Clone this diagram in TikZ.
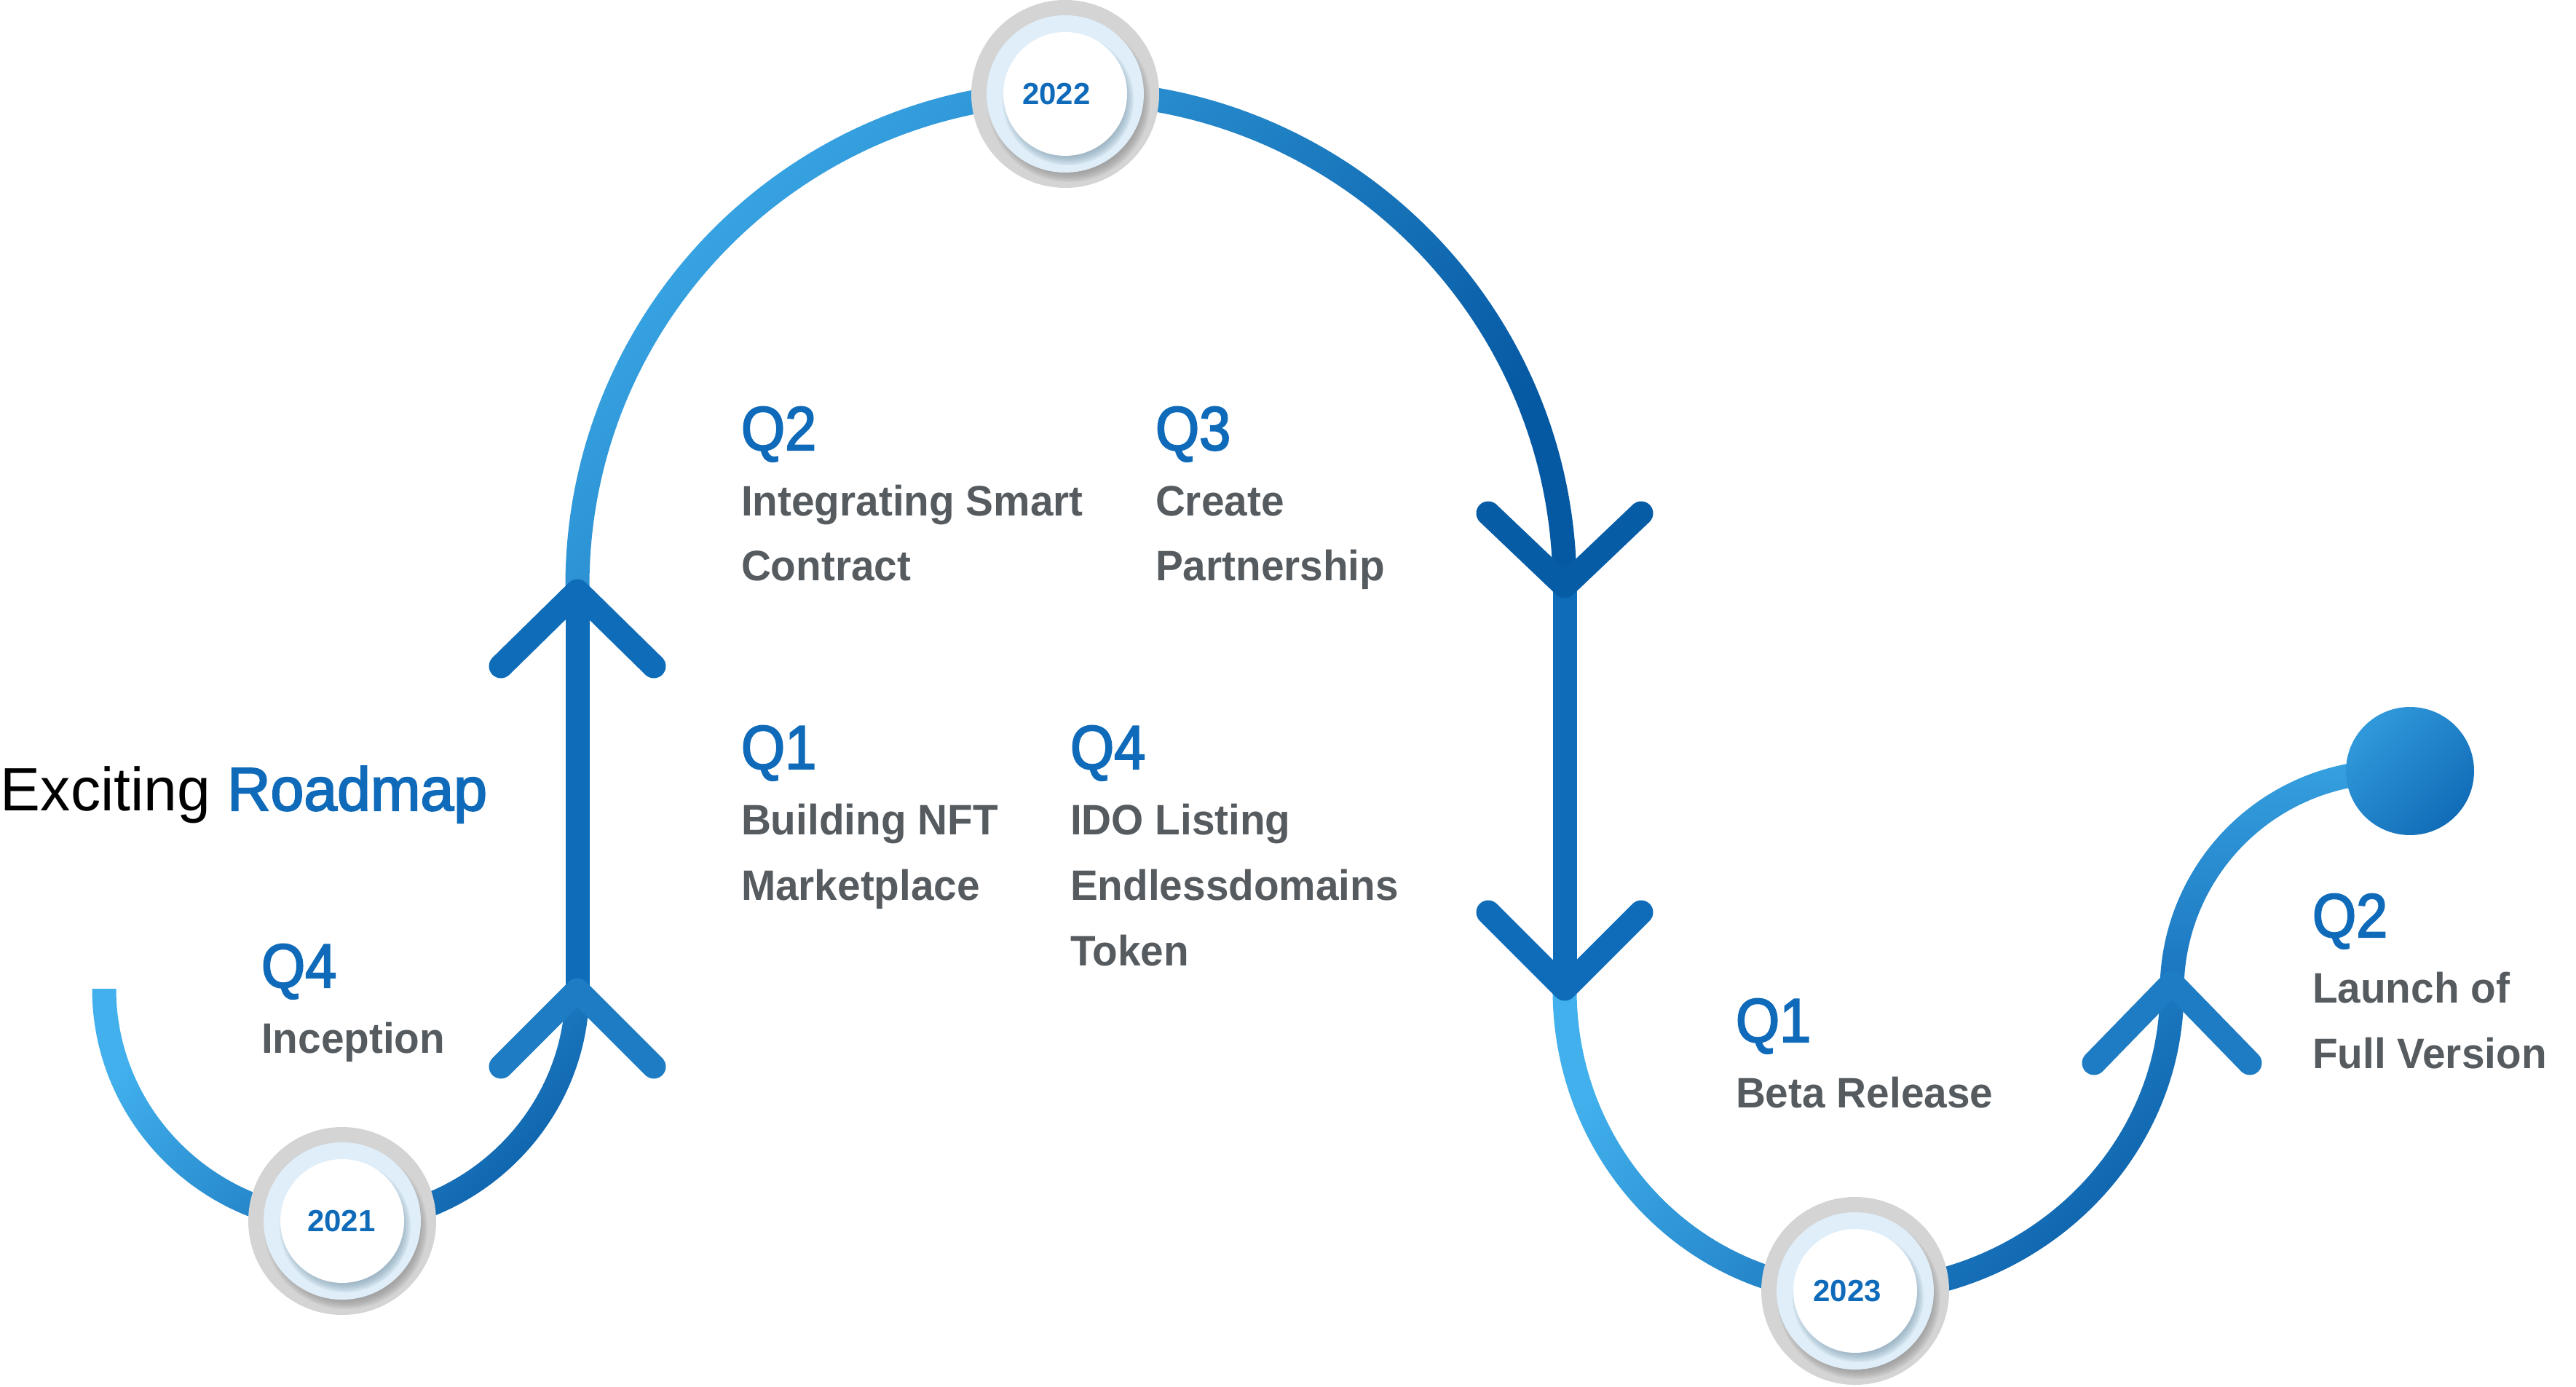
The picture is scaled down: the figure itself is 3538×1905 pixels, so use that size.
\documentclass[tikz,border=0pt]{standalone}
\usepackage{fontspec}
\setmainfont{Liberation Sans}
\newfontfamily\bodyfont{Liberation Sans}[FakeStretch=0.97]
\newfontfamily\qfont{Liberation Sans}[FakeStretch=0.91, FakeBold=2.5]
\newfontfamily\titlefont{Liberation Sans}[FakeStretch=0.98]
\newfontfamily\titleboldfont{Liberation Sans}[FakeStretch=0.98, FakeBold=2.5]
\definecolor{qblue}{HTML}{0F6BB9}
\definecolor{txtgray}{HTML}{565B60}
\definecolor{vblue}{HTML}{0E6CB9}
\definecolor{vdark}{HTML}{065DA6}
\definecolor{chevmid}{HTML}{1D7CC3}
\definecolor{arcLight}{HTML}{41B0EC}
\definecolor{arcDark}{HTML}{0D62AC}
\definecolor{bigLight}{HTML}{3BA8E6}
\definecolor{bigDark}{HTML}{0558A2}
\definecolor{finLight}{HTML}{36A1E0}
\definecolor{finDark}{HTML}{1A74BE}
\definecolor{dotLight}{HTML}{3099DB}
\definecolor{dotDark}{HTML}{116CB7}
\definecolor{ringgray}{HTML}{D4D4D4}
\definecolor{shadegray}{HTML}{8A8A8A}
\definecolor{ringblue}{HTML}{DFEEF8}
\definecolor{innershade}{HTML}{7F9AAD}
\tikzset{
  qlabel/.style={anchor=base west, inner sep=0pt, text=qblue, font=\qfont\fontsize{17pt}{17pt}\selectfont},
  bodyline/.style={anchor=base west, inner sep=0pt, text=txtgray, font=\bodyfont\bfseries\fontsize{11.7pt}{11.7pt}\selectfont},
  yeartext/.style={inner sep=0pt, text=qblue, font=\bfseries\fontsize{8.4pt}{8.4pt}\selectfont},
  stem/.style={line width=6.6pt, draw=vblue},
  chev/.style={line width=6.6pt, line cap=round, line join=round},
}
\newcommand{\yearbadge}[5]{%
  \fill[ringgray] (#2,#3) circle[radius=129];
  \foreach \k in {0,...,7}{\fill[shadegray, opacity=0.13] (#2+5,#3+9) circle[radius={112-2*\k}];}
  \fill[ringblue] (#2,#3) circle[radius=108];
  \foreach \k in {0,...,7}{\fill[innershade, opacity=0.13] (#2+4,#3+8) circle[radius={90-2*\k}];}
  \fill[white] (#2,#3) circle[radius=85];
  \node[yeartext] (#1) at (#2+#5,#3) {#4};
}
\begin{document}
\begin{tikzpicture}[x=0.2pt, y=-0.2pt]
\useasboundingbox (0,0) rectangle (3538,1905);

% key points
\coordinate (L1) at (793,1360);
\coordinate (L2) at (793,812);
\coordinate (R1) at (2149,805);
\coordinate (R2) at (2149,1358);
\coordinate (F1) at (2983,1350);

% vertical stems
\draw[stem] (793,1362) -- (793,805);
\draw[stem] (2149,805) -- (2149,1362);

% left arc (2021)
\shade[top color=arcLight, bottom color=arcDark, shading angle=45]
  (126.5,1358) arc[start angle=180, end angle=0, x radius=341.5, y radius=336.5]
  -- (776.5,1358) arc[start angle=0, end angle=180, x radius=308.5, y radius=303.5] -- cycle;

% big arc (2022)
\shade[top color=bigLight, bottom color=bigDark, shading angle=45]
  (776.5,805) arc[start angle=180, end angle=360, radius=694.5]
  -- (2132.5,805) arc[start angle=360, end angle=180, radius=661.5] -- cycle;

% lower arc (2023)
\shade[top color=arcLight, bottom color=arcDark, shading angle=45]
  (2132.5,1360) arc[start angle=180, end angle=90, x radius=415.5, y radius=430.5]
  arc[start angle=90, end angle=0, x radius=451.5, y radius=430.5]
  -- (2966.5,1360) arc[start angle=0, end angle=90, x radius=418.5, y radius=397.5]
  arc[start angle=90, end angle=180, x radius=382.5, y radius=397.5] -- cycle;

% final arc to the dot
\shade[top color=finLight, bottom color=finDark]
  (2966.5,1360) arc[start angle=180, end angle=275, radius=316.5]
  -- ([shift={(275:283.5)}]3283,1360) arc[start angle=275, end angle=180, radius=283.5] -- cycle;

\node[circle, minimum size=35.2pt, inner sep=0pt, top color=dotLight, bottom color=dotDark, shading angle=45, draw=none] (enddot) at (3310,1059) {};

% chevrons
\draw[chev, draw=chevmid] ([shift={(-105,105)}]L1) -- (L1) -- ([shift={(105,105)}]L1);
\draw[chev, draw=vblue] ([shift={(-105,103)}]L2) -- (L2) -- ([shift={(105,103)}]L2);
\draw[chev, draw=vdark] ([shift={(-105,-100)}]R1) -- (R1) -- ([shift={(105,-100)}]R1);
\draw[chev, draw=vblue] ([shift={(-105,-105)}]R2) -- (R2) -- ([shift={(105,-105)}]R2);
\draw[chev, draw=chevmid] ([shift={(-107,110)}]F1) -- (F1) -- ([shift={(107,110)}]F1);

% year badges
\yearbadge{y2021}{470}{1677}{2021}{-1}
\yearbadge{y2022}{1463}{129}{2022}{-12}
\yearbadge{y2023}{2548}{1773}{2023}{-11}

% title
\node[anchor=base west, inner sep=0pt, font=\fontsize{16.8pt}{16.8pt}\selectfont] (title) at (0,1113) {\titlefont\textcolor{black}{Exciting} \titleboldfont\textcolor{qblue}{Roadmap}};

% texts
\node[qlabel] (qa) at (358,1356) {Q4};
\node[bodyline] (qa1) at (358,1446) {Inception};

\node[qlabel] (qb) at (1017,618) {Q2};
\node[bodyline] (qb1) at (1017,708) {Integrating Smart};
\node[bodyline] (qb2) at (1017,798) {Contract};

\node[qlabel] (qc) at (1586,618) {Q3};
\node[bodyline] (qc1) at (1586,708) {Create};
\node[bodyline] (qc2) at (1586,798) {Partnership};

\node[qlabel] (qd) at (1017,1056) {Q1};
\node[bodyline] (qd1) at (1017,1146) {Building NFT};
\node[bodyline] (qd2) at (1017,1236) {Marketplace};

\node[qlabel] (qe) at (1469,1056) {Q4};
\node[bodyline] (qe1) at (1469,1146) {IDO Listing};
\node[bodyline] (qe2) at (1469,1236) {Endlessdomains};
\node[bodyline] (qe3) at (1469,1326) {Token};

\node[qlabel] (qf) at (2383,1431) {Q1};
\node[bodyline] (qf1) at (2383,1521) {Beta Release};

\node[qlabel] (qg) at (3175,1287) {Q2};
\node[bodyline] (qg1) at (3175,1377) {Launch of};
\node[bodyline] (qg2) at (3175,1467) {Full Version};
\end{tikzpicture}
\end{document}
